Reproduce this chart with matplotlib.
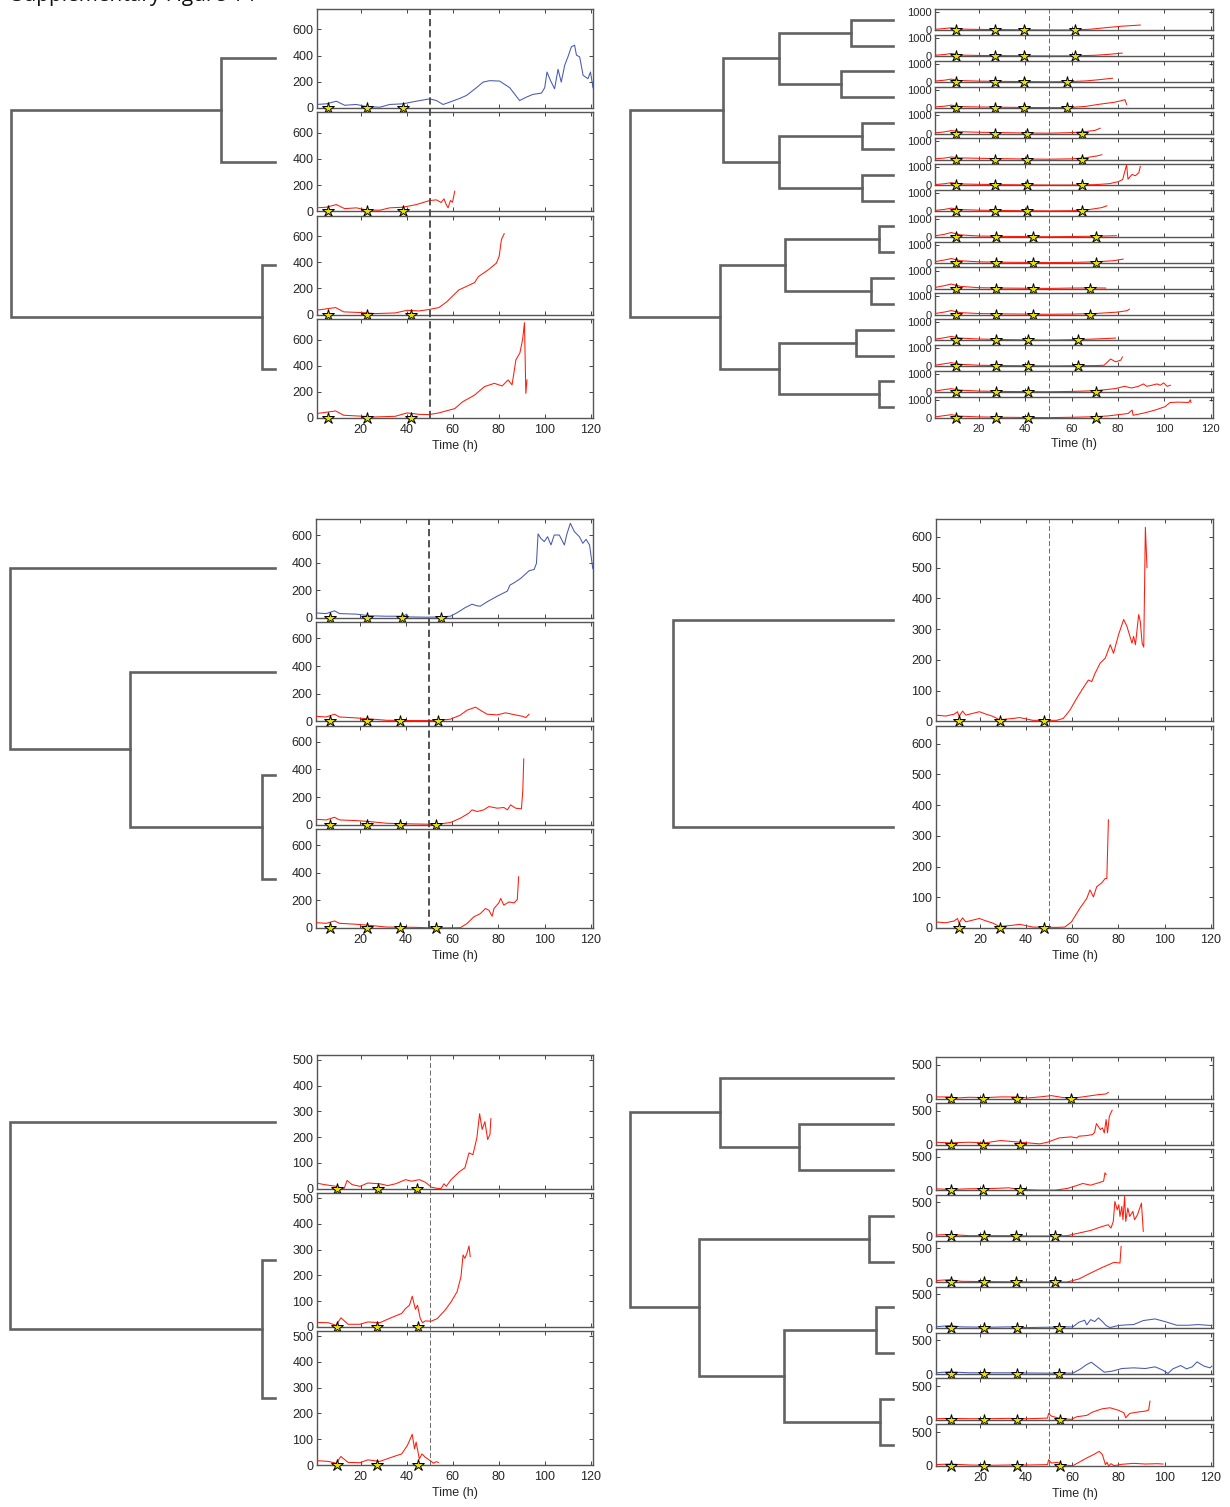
import matplotlib
matplotlib.use('Agg')
import matplotlib.pyplot as plt
from matplotlib.transforms import blended_transform_factory
from matplotlib.lines import Line2D

# ---------------- DATA ----------------
# Panel A (top-left)
a1_t = [0.7,5.1,9.4,13,18.1,22.5,28.3,32.6,38.4,44.2,50,52.9,55.8,58.7,63,66,70.3,73.2,76.1,80.4,84.8,89.1,92,94.9,98.6,100,101,102.5,104.3,105.8,107.2,108.7,110.1,111.6,113,113.8,115.2,116.7,118.8,119.9,121]
a1_v = [26,31,51,20,26,10,5,26,31,51,69,56,26,44,72,95,154,197,208,205,154,56,82,103,113,154,274,210,146,295,197,326,390,467,479,403,390,249,223,274,154]
a2_t = [0.7,5.1,9.4,13,18.1,22.5,28.3,32.6,38.4,44.2,50,52.9,55,56.2,57.2,58,59,59.9,60.9]
a2_v = [26,31,51,20,26,10,8,26,31,51,82,87,67,95,51,26,82,69,154]
a3_t = [0.5,9.1,12.6,21.2,26.4,35,40.2,45.3,49.7,54,57.4,62.6,69.5,71.2,75.5,79,80.2,81.2,82.4]
a3_v = [33,54,21,15,8,13,33,28,39,54,98,188,245,291,343,394,446,575,619]
a4_t = [0.5,9.1,12.6,21.2,26.4,35,40.2,45.3,49.7,54,60.9,64.3,69.5,73.8,78.1,81.5,84.1,85.8,87.5,89.2,90.4,91.2,91.8,92.3]
a4_v = [33,54,21,13,8,13,39,28,26,39,72,124,175,240,265,245,291,253,446,497,600,729,188,291]
a_stars = [[5.7,22.6,38.3],[5.7,22.6,38.3],[5.7,22.6,41.7],[5.7,22.6,41.7]]
a_links = [(0,1,0.205),(2,3,0.049),(4,5,1.0)]

# Panel B (top-right)
b1_t = [0.5,5,8,12,20,30,40,50,60,68,75,82,89.6]
b1_v = [50,100,140,70,50,40,30,20,20,60,150,230,290]
b2_t = [0.5,5,8,12,20,30,40,50,60,70,76,81.8]
b2_v = [50,90,150,60,40,30,20,15,15,50,100,170]
b3_t = [0.5,5,8,12,20,30,40,50,58,66,72,77.6]
b3_v = [50,100,160,80,50,35,25,15,20,60,130,208]
b4_t = [0.5,5,8,12,20,30,40,50,58,66,72,78,81,83,83.7]
b4_v = [50,90,150,70,50,35,20,15,15,80,200,300,380,450,190]
b5_t = [0.5,5,8,12,20,30,40,50,60,66,70,72.3]
b5_v = [40,100,170,110,80,60,40,30,60,120,180,300]
b6_t = [0.5,5,8,12,20,30,40,50,60,66,71,73]
b6_v = [40,80,140,90,70,50,30,20,40,100,200,265]
b7_t = [0.5,5,8,12,20,30,40,50,60,70,76.2,80,82,83.7,84.3,86,87.5,89,89.6]
b7_v = [40,90,150,80,60,40,30,20,20,40,95,200,320,1130,340,600,530,700,1040]
b8_t = [0.5,5,8,12,20,30,40,50,60,68,73,75.2]
b8_v = [40,100,170,90,60,40,30,20,30,100,200,300]
b9_t = [0.5,5,8,12,20,30,40,50,60,70,79.3]
b9_v = [60,150,250,120,60,40,30,20,30,50,75]
b10_t = [0.5,5,8,12,20,30,40,50,60,70,78,82.2]
b10_v = [60,160,240,120,60,40,30,20,30,60,120,210]
b11_t = [0.5,5,8,12,20,30,40,50,60,70,74.7]
b11_v = [60,170,260,130,60,40,30,20,40,50,40]
b12_t = [0.5,5,8,12,20,30,40,50,60,70,80,84,84.9]
b12_v = [50,140,220,110,60,40,30,20,30,60,140,220,300]
b13_t = [0.5,5,8,12,20,30,40,50,60,70,78.9]
b13_v = [60,150,220,130,80,50,30,20,40,80,130]
b14_t = [0.5,5,8,12,20,30,40,50,60,70,74,76.8,79,81.2,81.9]
b14_v = [50,140,200,110,60,40,30,20,30,40,60,400,245,340,510]
b15_t = [0.5,5,8,12,20,30,40,50,60,70,74.2,79,82.9,85.8,88.8,91,92.4,94.6,96.8,98.3,99.7,101.2,102.6]
b15_v = [50,140,190,110,60,40,30,20,40,80,130,200,320,227,320,450,320,380,450,380,510,320,380]
b16_t = [0.5,5,8,12,20,30,40,50,60,70,75.6,80,84.3,86.1,86.5,91.6,96,100.3,102.5,106.2,110.5,111.2,111.5]
b16_v = [50,130,180,100,60,40,30,20,40,70,113,180,245,435,150,284,435,620,850,870,850,1000,850]
b_stars = [[10.1,26.7,39.6,61.3],[10.1,26.7,39.6,61.3],[10.1,26.7,39.6,57.8],[10.1,26.7,39.6,57.8],
           [10.1,26.7,40.7,64.6],[10.1,26.7,40.7,64.6],[10.1,26.7,40.7,64.6],[10.1,26.7,40.7,64.6],
           [10.1,27.2,43.2,70.4],[10.1,27.2,43.2,70.4],[10.1,27.2,43.2,67.7],[10.1,27.2,43.2,67.7],
           [10.1,27.2,41.1,62.9],[10.1,27.2,41.1,62.9],[10.1,27.2,41.1,70.7],[10.1,27.2,41.1,70.7]]
b_links = [(0,1,0.159),(2,3,0.198),(16,17,0.435),(4,5,0.118),(6,7,0.118),(19,20,0.435),(18,21,0.645),
           (8,9,0.055),(10,11,0.083),(23,24,0.411),(12,13,0.141),(14,15,0.052),(26,27,0.435),(25,28,0.658),
           (22,29,1.0)]

# Panel C (middle-left)
c1_t = [0.7,5.4,9,11.2,18.5,24.3,31.5,38.8,40.3,41,49,54.8,59.2,62,65.7,68.6,70.8,72.2,75.1,79.5,83.9,85,86.8,89.7,93.3,95.5,96.5,97.2,98.4,99.9,101.3,102.8,104.2,106.4,108.6,109.7,111.2,112.9,115.1,116.6,118,119.5,120.9,121.4]
c1_v = [36,31,51,31,27,15,12,12,27,7,5,7,12,36,75,99,87,85,116,157,194,237,254,286,341,351,395,608,576,552,588,528,600,600,528,608,685,625,588,540,569,528,358,346]
c2_t = [0.7,5.4,9,11.2,18.5,24.3,31.5,43.2,53.3,59.2,63.5,66.4,70.1,72.2,75.1,79.5,83.1,86.8,90.4,91.9,93.3]
c2_v = [36,31,51,31,24,17,7,5,5,15,44,80,102,80,51,46,61,48,36,27,51]
c3_t = [0.7,5.4,9,11.2,18.5,24.3,31.5,43.2,53.3,59.2,63.5,67.2,68.6,70.8,73.7,75.9,79.5,82.4,83.9,85.3,87.5,90,90.6,91]
c3_v = [39,34,53,34,29,22,10,5,2,15,46,83,107,95,107,131,119,124,107,143,119,114,252,476]
c4_t = [0.7,5.4,9,11.2,18.5,24.3,31.5,43.2,53.3,63.5,66.4,69.3,72.2,74.4,75.9,77.3,78.1,80.2,81,82.4,84.6,86.8,88.2,88.8]
c4_v = [39,34,51,34,27,19,7,5,0,2,32,80,104,141,129,85,141,182,214,165,189,182,206,371]
c_stars = [[6.9,23.1,38.2,55.0],[6.9,23.1,37.5,54.0],[6.9,23.1,37.5,52.9],[6.9,23.1,37.5,52.9]]
c_links = [(2,3,0.049),(1,4,0.547),(0,5,1.0)]

# Panel D (middle-right)
d1_t = [0.6,5.2,8.9,10.3,11,12.5,13.9,19.8,22.7,25.6,28.5,34.3,37.2,43,48.8,53.2,56.1,59,61.9,64.1,67,68.5,69.9,72.1,74.3,76.5,77.9,80.1,82.3,83.7,85.9,86.6,87.4,88.8,89.5,90.3,91,91.7,92.4]
d1_v = [20,17,23,31,16,33,20,31,23,16,5,9,12,3,3,3,9,36,74,101,134,129,156,189,205,249,221,282,331,309,254,276,249,347,325,254,241,631,500]
d2_t = [0.6,5.2,8.9,10.3,11,12.5,13.9,19.8,22.7,25.6,28.5,34.3,37.2,43,53.2,56.8,59.7,63.4,66.3,67.7,69.2,70.6,72.8,74.3,75,75.7]
d2_v = [20,17,23,31,16,33,20,31,23,16,5,9,12,3,2,3,20,65,96,124,101,134,147,161,161,352]
d_stars = [[11.0,28.6,47.9],[11.0,28.6,47.9]]
d_links = [(0,1,0.836)]

# Panel E (bottom-left)
e1_t = [0.7,4.1,9.3,12.8,14.1,16.2,19.7,23.1,28.3,31.7,35.2,39.5,42.1,45.5,48.1,50.7,53.3,55,56.2,57.2,59.3,62.8,65.3,67.1,68.8,70.5,71.7,72.8,74,75.2,76.2,76.6]
e1_v = [22,16,9,1,32,16,9,22,19,12,19,35,29,35,25,6,1,1,19,9,35,65,81,139,132,197,291,230,260,191,210,272]
e2_t = [0.7,5.9,9.3,11.4,14.5,19.7,23.1,28.3,33.4,37.8,39.5,41.2,42.4,43.8,44.7,45.9,46.9,48.1,50.7,53.3,56.7,59.3,61.9,63.6,64.5,65.3,66.2,67.1,67.6]
e2_v = [17,16,6,35,10,10,19,16,36,52,71,84,119,68,84,32,16,23,22,32,65,97,136,195,279,266,286,314,273]
e3_t = [0.7,5.9,9.3,11.4,14.5,19.7,23.1,28.3,33.4,37.8,40.3,42.4,43.4,44.1,45.5,46.6,48.1,50.7,51.6,52.9,53.8]
e3_v = [17,14,7,33,10,9,20,14,30,43,76,119,63,89,23,43,30,14,7,13,10]
e_stars = [[9.8,27.4,44.3],[9.8,27.3,44.8],[9.8,27.3,44.8]]
e_links = [(1,2,0.049),(0,3,1.0)]

# Panel F (bottom-right)
f1_t = [0.5,6.9,10.3,15.4,22.2,29,35.8,40.8,45.9,51,56.1,61.2,66.3,71.4,74.7,75.6]
f1_v = [25,25,10,20,15,25,25,10,25,44,15,10,34,59,69,93]
f2_t = [0.5,6.9,15.4,22.2,29,37.5,45.9,49.3,54.4,59.5,62,62.9,66.3,68.8,69.7,70.5,72.2,73.1,73.9,74.7,75.3,76.1,77.3]
f2_v = [34,25,34,25,59,34,10,34,98,113,98,123,132,147,181,309,221,245,172,368,172,417,505]
f3_t = [0.5,6.9,15.4,25.6,32.4,37.5,45.9,52.7,57.8,61.2,64.6,68,71.4,73.6,74.2,74.7]
f3_v = [25,15,25,29,39,15,5,5,29,64,103,78,113,137,260,235]
f4_t = [0.5,6.9,15.4,25.6,32.4,40.8,49.3,57.8,62.9,68,73.1,75.6,76.8,77.8,78.5,79.5,80.2,80.7,81.5,82,82.7,83.2,84.1,84.9,86.3,87,88.3,90,90.8]
f4_v = [20,29,10,10,10,5,5,10,49,88,147,172,123,220,515,392,466,294,441,245,588,220,417,294,368,245,319,490,74]
f5_t = [0.5,6.9,12,23.9,40.8,57.8,62.9,68,73.1,78.1,80.7,81.2]
f5_v = [25,39,15,10,5,5,49,137,220,294,284,529]
f6_t = [0.5,6.9,12,23.9,32.4,40.8,49.3,57.8,60.3,62.9,65.4,66.3,68,69.7,71.4,73.1,74.7,76.4,79.8,83.2,86.6,90.8,95.9,100.2,105.3,110.3,114.6,120.5]
f6_v = [20,39,20,15,20,10,15,20,20,88,118,49,127,98,152,98,39,10,39,49,54,113,137,98,44,44,54,39]
f7_t = [0.5,6.9,15.4,32.4,49.3,60.3,63.7,66.3,68.3,70.5,73.9,77.3,81.5,86.6,91.7,95.9,99.3,101.5,103.6,107,109.5,112,114.1,117.1,119.7,120.5]
f7_v = [20,34,20,20,15,15,78,142,176,118,29,44,83,93,83,108,59,10,78,127,78,108,181,118,93,118]
f8_t = [0.5,6.9,15.4,23.9,32.4,40.8,49.3,49.8,51,53.6,56.1,59.5,62,66.3,68.8,73.1,76.4,79.8,82.4,83.2,84.9,88.3,91.7,93.1,93.7]
f8_v = [20,25,20,20,25,20,29,98,59,34,20,10,49,69,118,167,181,147,108,34,98,118,132,147,279]
f9_t = [0.5,6.9,15.4,23.9,32.4,40.8,49.3,49.8,51,53.6,56.1,60.3,62.9,66.3,69.7,71.7,73.1,74.4,75.1,75.8,76.8,78.1,81.5,86.6,91.7,96.8,99.3]
f9_v = [20,29,15,10,15,15,20,93,44,54,15,5,54,118,176,216,167,20,54,0,34,5,25,39,29,34,29]
f_stars = [[7.7,21.2,35.9,59.3],[7.7,21.2,37.4],[7.7,21.2,37.4],[7.7,21.6,35.5,52.5],[7.7,21.6,35.5,52.5],
           [7.7,21.6,35.9,54.1],[7.7,21.6,35.9,54.1],[7.7,21.6,35.9,54.9],[7.7,21.6,35.9,54.9]]
f_links = [(1,2,0.357),(0,9,0.658),(3,4,0.091),(5,6,0.065),(7,8,0.049),(12,13,0.416),(11,14,0.739),(10,15,1.0)]

x_ticks = [20, 40, 60, 80, 100, 120]
onset_time = 50

# ---------------- STYLE / LAYOUT ----------------
plt.rcParams['font.family'] = ['Liberation Sans', 'DejaVu Sans']
RED = '#ff1a0a'
BLUE = '#4658b0'
W, H = 1230, 1507
fig = plt.figure(figsize=(W / 100, H / 100), dpi=100)


def px_axes(x0, y0, x1, y1):
    return fig.add_axes([x0 / W, 1 - y1 / H, (x1 - x0) / W, (y1 - y0) / H])


def draw_dendrogram(dbox, n, links):
    dx0, dx1, top, bot = dbox
    ax = px_axes(dx0, top, dx1, bot)
    ax.set_xlim(1.0, 0.0)
    ax.set_ylim(n, 0)
    ax.axis('off')
    pos = {i: (0.0, i + 0.5) for i in range(n)}
    nid = n
    for a, b, h in links:
        xa, ya = pos[a]
        xb, yb = pos[b]
        ax.plot([xa, h, h, xb], [ya, ya, yb, yb], color='#626262', lw=1.9,
                solid_joinstyle='miter', clip_on=False)
        pos[nid] = (h, (ya + yb) / 2)
        nid += 1


def draw_panel(box, traces, colors, stars, ymax, yticks, dend_x, links, thick, fs=9):
    x0, x1, T, B, gap = box
    n = len(traces)
    h = (B - T - (n - 1) * gap) / n
    axes = []
    for i, (t, v) in enumerate(traces):
        top = T + i * (h + gap)
        ax = px_axes(x0, top, x1, top + h)
        ax.plot(t, v, color=colors[i], lw=0.75, zorder=3)
        ax.plot(stars[i], [0] * len(stars[i]), linestyle='none', marker='*', ms=9,
                mfc='#e8e000', mec='black', mew=0.7, clip_on=False, zorder=6)
        ax.set_xlim(1, 121)
        ax.set_ylim(0, ymax)
        ax.set_yticks(yticks)
        ax.set_xticks(x_ticks)
        ax.tick_params(direction='in', top=True, right=True, length=3, width=0.6,
                       labelsize=fs, colors='#262626')
        ax.tick_params(axis='y', pad=2.5)
        ax.tick_params(axis='x', pad=4)
        if i < n - 1:
            ax.set_xticklabels([])
        else:
            ax.set_xlabel('Time (h)', fontsize=9, labelpad=3, color='#262626')
        for s in ax.spines.values():
            s.set_color('#555555')
            s.set_linewidth(1.0)
        axes.append(ax)
    trans = blended_transform_factory(axes[-1].transData, fig.transFigure)
    if thick:
        ln = Line2D([onset_time, onset_time], [1 - B / H, 1 - T / H], transform=trans,
                    color='#454545', lw=1.3, dashes=(4, 2.2), zorder=4)
    else:
        ln = Line2D([onset_time, onset_time], [1 - B / H, 1 - T / H], transform=trans,
                    color='#555555', lw=0.6, dashes=(6, 3), zorder=4)
    fig.add_artist(ln)
    draw_dendrogram((dend_x[0], dend_x[1], T - gap / 2, B + gap / 2), n, links)


draw_panel((317, 593, 9, 418, 4.5),
           [(a1_t, a1_v), (a2_t, a2_v), (a3_t, a3_v), (a4_t, a4_v)],
           [BLUE, RED, RED, RED], a_stars, 756, [0, 200, 400, 600], (11, 275), a_links, True)

draw_panel((935, 1213, 9, 418, 4.5),
           [(b1_t, b1_v), (b2_t, b2_v), (b3_t, b3_v), (b4_t, b4_v), (b5_t, b5_v), (b6_t, b6_v),
            (b7_t, b7_v), (b8_t, b8_v), (b9_t, b9_v), (b10_t, b10_v), (b11_t, b11_v), (b12_t, b12_v),
            (b13_t, b13_v), (b14_t, b14_v), (b15_t, b15_v), (b16_t, b16_v)],
           [RED] * 16, b_stars, 1170, [0, 1000], (630, 893), b_links, False, fs=8)

draw_panel((316, 593, 519, 928, 4.5),
           [(c1_t, c1_v), (c2_t, c2_v), (c3_t, c3_v), (c4_t, c4_v)],
           [BLUE, RED, RED, RED], c_stars, 716, [0, 200, 400, 600], (10, 275), c_links, True)

draw_panel((936, 1213, 519, 928, 4.5),
           [(d1_t, d1_v), (d2_t, d2_v)],
           [RED, RED], d_stars, 658, [0, 100, 200, 300, 400, 500, 600], (630, 893), d_links, False)

draw_panel((317, 593, 1055, 1465, 4.5),
           [(e1_t, e1_v), (e2_t, e2_v), (e3_t, e3_v)],
           [RED, RED, RED], e_stars, 519, [0, 100, 200, 300, 400, 500], (10, 275), e_links, False)

draw_panel((936, 1213, 1057, 1466, 4.3),
           [(f1_t, f1_v), (f2_t, f2_v), (f3_t, f3_v), (f4_t, f4_v), (f5_t, f5_v), (f6_t, f6_v),
            (f7_t, f7_v), (f8_t, f8_v), (f9_t, f9_v)],
           [RED, RED, RED, RED, RED, BLUE, BLUE, RED, RED], f_stars, 613, [0, 500], (630, 893), f_links, False)

fig.text(12 / W, 1 - 1.5 / H, 'Supplementary Figure 14', fontsize=15, va='baseline', ha='left',
         family=['Open Sans', 'DejaVu Sans'], color='#111111')

fig.savefig('out.png', dpi=100)
